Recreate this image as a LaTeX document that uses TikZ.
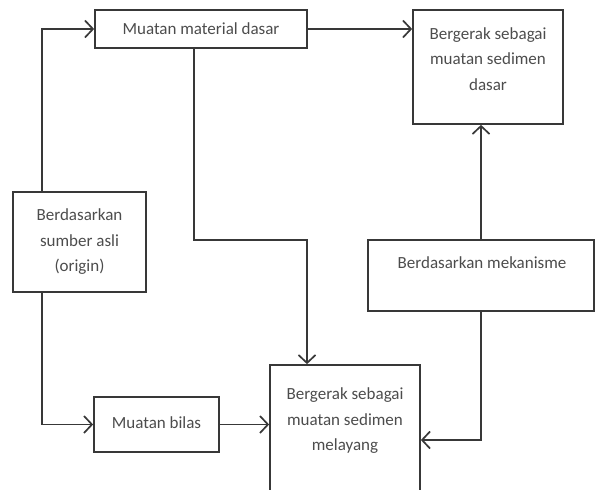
\documentclass[tikz,border=0pt]{standalone}
\usepackage{fontspec}
\setmainfont{Carlito}
\usepackage{tikz}
\usetikzlibrary{shapes,arrows,arrows.meta,positioning,calc}

\definecolor{garis}{gray}{0.22}
\definecolor{tulisan}{gray}{0.3}

\begin{document}
\begin{tikzpicture}[x=1pt, y=-1pt,
    blok/.style={draw=garis, line width=1.7pt, rectangle, inner sep=0pt},
    teks/.style={align=center, text=tulisan, inner sep=0pt, font=\fontsize{17}{25.5}\selectfont},
    panah/.style={draw=garis, line width=1.7pt, -{Straight Barb[length=8pt, width=17pt, line width=1.7pt]}}]

\useasboundingbox (0,0) rectangle (595,490);
\clip (0,0) rectangle (595,490);

% kotak-kotak
\node[blok, minimum width=212, minimum height=38] (material) at (201,29) {};
\node[blok, minimum width=150, minimum height=114] (dasar) at (488,67) {};
\node[blok, minimum width=133, minimum height=100] (sumber) at (79.5,242) {};
\node[blok, minimum width=125, minimum height=55] (bilas) at (156.5,424.5) {};
\node[blok, minimum width=150, minimum height=150] (melayang) at (345,440) {};
\node[blok, minimum width=226, minimum height=71] (mekanisme) at (481,275.5) {};

% tulisan
\node[teks] (tmaterial) at (201,29) {Muatan material dasar};
\node[teks] (tdasar) at (488,59) {Bergerak sebagai\\muatan sedimen\\dasar};
\node[teks] (tsumber) at (79.5,242) {Berdasarkan\\sumber asli\\(origin)};
\node[teks] (tbilas) at (156.5,423) {Muatan bilas};
\node[teks] (tmelayang) at (345,421) {Bergerak sebagai\\muatan sedimen\\melayang};
\node[teks] (tmekanisme) at (482,263) {Berdasarkan mekanisme};

% panah
\coordinate (kiri) at (42,0);
\coordinate (belok) at (307,240);
\draw[panah] (kiri |- sumber.north) |- (material.west);
\draw[panah] (kiri |- sumber.south) |- (bilas.west);
\draw[panah] (bilas.east) -- (bilas.east -| melayang.west);
\draw[panah] (material.east) -- (material.east -| dasar.west);
\draw[panah] (194,0 |- material.south) |- (belok) -- (belok |- melayang.north);
\draw[panah] (mekanisme.north) -- (mekanisme.north |- dasar.south);
\draw[panah] (mekanisme.south) |- (melayang.east);
\end{tikzpicture}
\end{document}
